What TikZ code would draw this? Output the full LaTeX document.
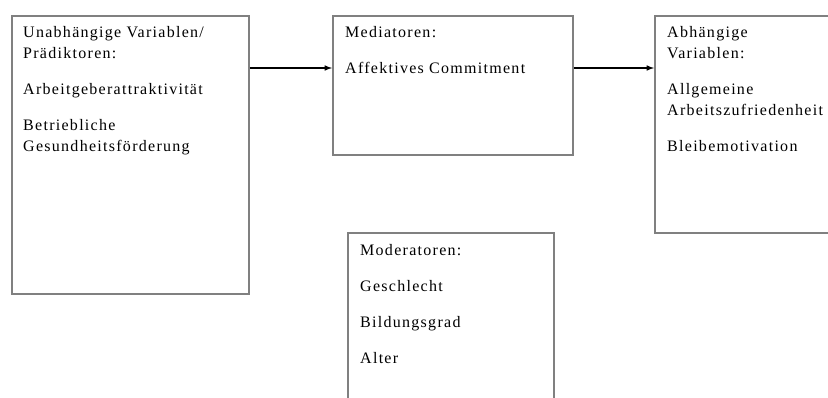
\documentclass[tikz,border=0pt]{standalone}
\usepackage{fontspec}
\setmainfont{Liberation Serif}[LetterSpace=8]
\usetikzlibrary{positioning}

\begin{document}
\begin{tikzpicture}[x=1pt,y=-1pt,
  box/.style={draw=black!50,line width=1.8pt,rectangle,inner sep=0pt,anchor=north west},
  boxtext/.style={anchor=north west,align=left,inner sep=0pt,font=\fontsize{16}{21}\selectfont},
  link/.style={-latex,line width=1.5pt}]

  \useasboundingbox (0,0) rectangle (828,397);
  \clip (0,0) rectangle (828,397);

  % Praediktoren, Mediatoren, abhaengige Variablen, Moderatoren

  \node [box,minimum width=237pt,minimum height=278pt] at (11,15) (praed) {};
  \node [boxtext] at (23,26) (praedtext)
    {Unabhängige Variablen/\\Prädiktoren:\\[15pt]Arbeitgeberattraktivität\\[15pt]Betriebliche\\Gesundheitsförderung};

  \node [box,minimum width=240pt,minimum height=139pt] at (332,15) (med) {};
  \node [boxtext] at (345,26) (medtext)
    {Mediatoren:\\[15pt]Affektives Commitment};

  \node [box,minimum width=200pt,minimum height=217pt] at (654,15) (abh) {};
  \node [boxtext] at (667,26) (abhtext)
    {Abhängige\\Variablen:\\[15pt]Allgemeine\\Arbeitszufriedenheit\\[15pt]Bleibemotivation};

  \node [box,minimum width=206pt,minimum height=190pt] at (347,232) (mod) {};
  \node [boxtext] at (360,244) (modtext)
    {Moderatoren:\\[15pt]Geschlecht\\[15pt]Bildungsgrad\\[15pt]Alter};

  \draw [link] ([yshift=-53pt]praed.north east) -- ([yshift=-53pt]med.north west);
  \draw [link] ([yshift=-53pt]med.north east) -- ([yshift=-53pt]abh.north west);

\end{tikzpicture}
\end{document}
